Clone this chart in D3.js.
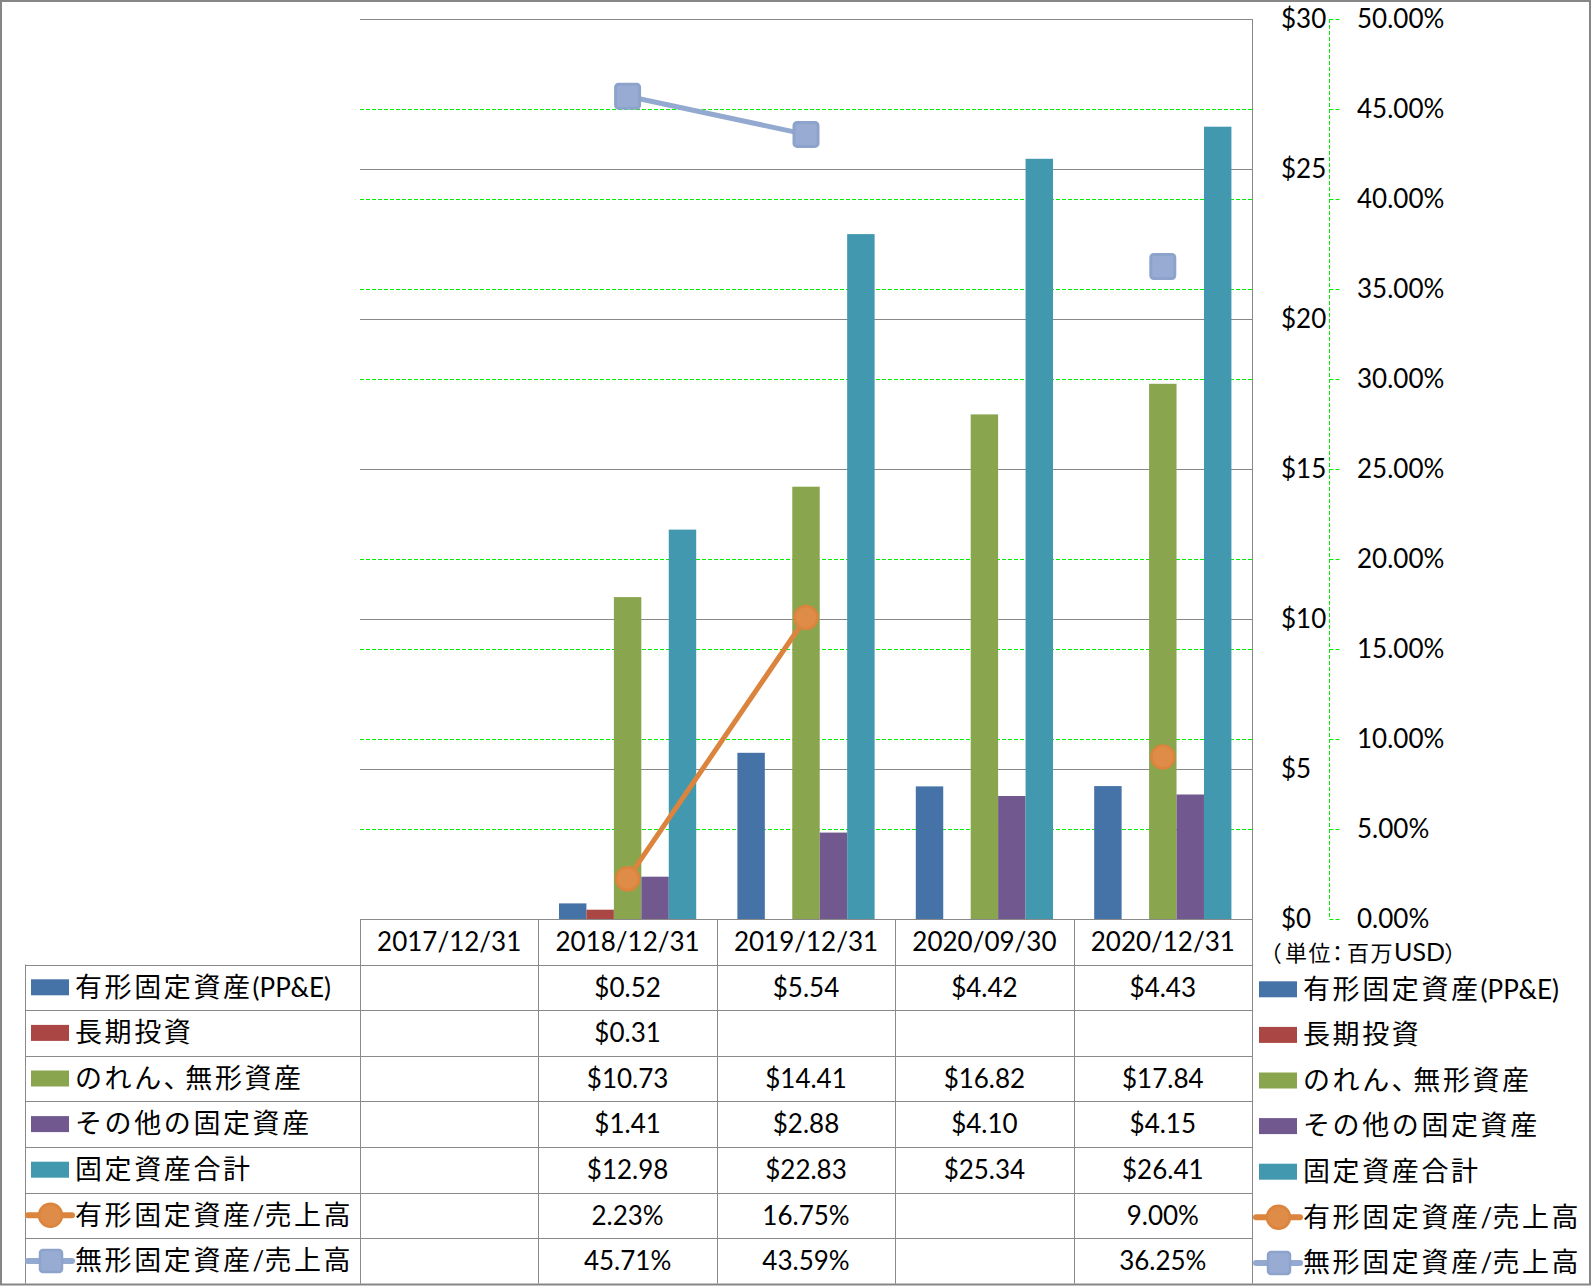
<!DOCTYPE html>
<html><head><meta charset="utf-8">
<script src="https://cdn.jsdelivr.net/npm/d3@7"></script>
<style>
html,body{margin:0;padding:0;background:#fff;}
svg{display:block;}
text{font-family:Lato,'Noto Sans CJK JP',sans-serif;fill:#000;}
</style>
</head><body>
<svg id="chart" width="1592" height="1286"></svg>
<script>
// ---- data ----
const categories = ["2017/12/31","2018/12/31","2019/12/31","2020/09/30","2020/12/31"];
const barSeriesNames = ["有形固定資産(PP&E)","長期投資","のれん、無形資産","その他の固定資産","固定資産合計"];
const ppe = [null,0.52,5.54,4.42,4.43];
const longTermInvestments = [null,0.31,null,null,null];
const goodwillIntangibles = [null,10.73,14.41,16.82,17.84];
const otherFixedAssets = [null,1.41,2.88,4.10,4.15];
const totalFixedAssets = [null,12.98,22.83,25.34,26.41];
const lineSeriesNames = ["有形固定資産/売上高","無形固定資産/売上高"];
const ppeToSales = [null,2.23,16.75,null,9.00];
const intangiblesToSales = [null,45.71,43.59,null,36.25];
const usdTicks = [0,5,10,15,20,25,30];
const pctTicks = [0,5,10,15,20,25,30,35,40,45,50];
const unitLabel = "（単位：百万USD）";

// ---- styles ----
const barColors = ["#4572A7","#AA4643","#89A54E","#71588F","#4198AF"];
const lineColors = ["#DB843D","#93A9CF"];
const barSeries = [ppe,longTermInvestments,goodwillIntangibles,otherFixedAssets,totalFixedAssets];
const lineSeries = [ppeToSales,intangiblesToSales];

const W=1592,H=1286;
const L=360,R=1252,T=19,B=919;
const rowTop=964.5, rowH=45.6;
const fs=26;

const svg=d3.select("#chart");
svg.append("rect").attr("width",W).attr("height",H).attr("fill","#fff");

const x=d3.scaleBand().domain(categories).range([L,R]).padding(0);
const xs=d3.scaleBand().domain(d3.range(5)).range([0,x.bandwidth()]).paddingInner(0).paddingOuter(0.75);
const y=d3.scaleLinear().domain([0,30]).range([B,T]);
const y2=d3.scaleLinear().domain([0,50]).range([B,T]);

// CJK-aware text: CJK runs in Noto Sans CJK, punctuation proportional
const cjkRe=/([\u3000-\u30ff\u3400-\u9fff\uff00-\uffef]+)/;
const punctRe=/([\u3001\u3002\uff08\uff09\uff1a]+)/;
function rich(t,str,ls,cjkSize,latinSize,punctLs){
  str.split(cjkRe).filter(s=>s.length).forEach(s=>{
    if(cjkRe.test(s)){
      s.split(punctRe).filter(p=>p.length).forEach(p=>{
        const isP=punctRe.test(p);
        const ts=t.append("tspan").text(p).attr("font-family","'Noto Sans CJK JP'")
          .style("letter-spacing",(isP?punctLs:ls)+"px");
        if(cjkSize) ts.attr("font-size",cjkSize);
        if(isP) ts.style("font-feature-settings","'palt'");
      });
    } else {
      const ts=t.append("tspan").text(s);
      if(latinSize) ts.attr("font-size",latinSize);
    }
  });
}

// green dashed gridlines (secondary)
svg.append("g").selectAll("line").data(pctTicks.filter(d=>d>0&&d<50)).join("line")
  .attr("x1",L).attr("x2",R).attr("y1",d=>Math.round(y2(d))+0.5).attr("y2",d=>Math.round(y2(d))+0.5)
  .attr("stroke","#00F000").attr("stroke-width",1).attr("stroke-dasharray","4,2");

// gray gridlines (primary)
svg.append("g").selectAll("line").data(usdTicks.filter(d=>d>0)).join("line")
  .attr("x1",L).attr("x2",R).attr("y1",d=>Math.round(y(d))+0.5).attr("y2",d=>Math.round(y(d))+0.5)
  .attr("stroke","#888").attr("stroke-width",1);

// primary axis line at right
svg.append("line").attr("x1",R+0.5).attr("x2",R+0.5).attr("y1",T).attr("y2",B).attr("stroke","#888");

// bars
barSeries.forEach((vals,si)=>{
  svg.append("g").selectAll("rect").data(vals.map((v,i)=>({v,c:categories[i]})).filter(d=>d.v!=null)).join("rect")
    .attr("x",d=>x(d.c)+xs(si)).attr("width",xs.bandwidth())
    .attr("y",d=>y(d.v)).attr("height",d=>B-y(d.v))
    .attr("fill",barColors[si]);
});

// lines
function markerCircle(g,cx,cy,col){
  g.append("circle").attr("cx",cx).attr("cy",cy).attr("r",11.5).attr("fill","#DF8C48").attr("stroke",col).attr("stroke-width",2.5);
}
function markerSquare(g,cx,cy,col){
  g.append("rect").attr("x",cx-12).attr("y",cy-12).attr("width",24).attr("height",24).attr("rx",3)
    .attr("fill","#98ABD3").attr("stroke","#8DA3CB").attr("stroke-width",3);
}
lineSeries.forEach((vals,li)=>{
  const pts=vals.map((v,i)=>({v,c:categories[i]}));
  const line=d3.line().defined(d=>d.v!=null).x(d=>x(d.c)+x.bandwidth()/2).y(d=>y2(d.v));
  svg.append("path").attr("d",line(pts)).attr("fill","none").attr("stroke",lineColors[li])
    .attr("stroke-width",5).attr("stroke-linecap","round");
  const g=svg.append("g");
  pts.filter(d=>d.v!=null).forEach(d=>{
    const cx=x(d.c)+x.bandwidth()/2, cy=y2(d.v);
    if(li===0) markerCircle(g,cx,cy,lineColors[0]); else markerSquare(g,cx,cy,lineColors[1]);
  });
});

// primary axis labels
svg.append("g").selectAll("text").data(usdTicks).join("text")
  .attr("x",1281).attr("y",d=>y(d)).attr("dy","0.36em").attr("font-size",fs)
  .text(d=>"$"+d);

// secondary axis
const ax2=1329.5;
svg.append("line").attr("x1",ax2).attr("x2",ax2).attr("y1",T).attr("y2",B)
  .attr("stroke","#00F000").attr("stroke-dasharray","4,2");
svg.append("g").selectAll("line").data(pctTicks).join("line")
  .attr("x1",ax2).attr("x2",ax2+10).attr("y1",d=>Math.round(y2(d))+0.5).attr("y2",d=>Math.round(y2(d))+0.5)
  .attr("stroke","#00F000").attr("stroke-dasharray","4,2");
svg.append("g").selectAll("text").data(pctTicks).join("text")
  .attr("x",1357).attr("y",d=>y2(d)).attr("dy","0.36em").attr("font-size",fs)
  .text(d=>d3.format(".2f")(d)+"%");

// unit label
const ut=svg.append("text").attr("x",1270).attr("y",953).attr("dy","0.36em").attr("font-size",22);
rich(ut,unitLabel,1.5,22,25,4);

// ---- data table ----
const grid="#8a8a8a";
const tbl=svg.append("g");
const nRows=7;
tbl.append("line").attr("x1",L).attr("x2",R).attr("y1",B+0.5).attr("y2",B+0.5).attr("stroke",grid);
d3.range(nRows+1).forEach(i=>{
  const yy=Math.round(rowTop+i*rowH)+0.5;
  tbl.append("line").attr("x1",25).attr("x2",R).attr("y1",yy).attr("y2",yy).attr("stroke",grid);
});
categories.concat(["_end"]).forEach((c,i)=>{
  const xx=Math.round(L+i*x.bandwidth())+0.5;
  tbl.append("line").attr("x1",xx).attr("x2",xx).attr("y1",B).attr("y2",rowTop+nRows*rowH).attr("stroke",grid);
});
tbl.append("line").attr("x1",25.5).attr("x2",25.5).attr("y1",rowTop).attr("y2",rowTop+nRows*rowH).attr("stroke",grid);

// header
tbl.selectAll("text.hdr").data(categories).join("text").attr("class","hdr")
  .attr("x",d=>x(d)+x.bandwidth()/2).attr("y",(B+rowTop)/2).attr("dy","0.36em")
  .attr("text-anchor","middle").attr("font-size",fs).text(d=>d);

const fmtUsd=v=>"$"+d3.format(".2f")(v);
const fmtPct=v=>d3.format(".2f")(v)+"%";
const rows=barSeries.map((s,i)=>({name:barSeriesNames[i],vals:s,fmt:fmtUsd,type:"bar",ci:i}))
  .concat(lineSeries.map((s,i)=>({name:lineSeriesNames[i],vals:s,fmt:fmtPct,type:"line",ci:i})));

function legendSymbol(g,r,x0,cy){
  if(r.type==="bar"){
    g.append("rect").attr("x",x0).attr("y",cy-8).attr("width",38).attr("height",16).attr("fill",barColors[r.ci]);
  } else {
    g.append("line").attr("x1",x0-3).attr("x2",x0+41).attr("y1",cy).attr("y2",cy)
      .attr("stroke",lineColors[r.ci]).attr("stroke-width",6).attr("stroke-linecap","round");
    if(r.ci===0) markerCircle(g,x0+19.5,cy,lineColors[0]);
    else { g.append("rect").attr("x",x0+9).attr("y",cy-11).attr("width",22).attr("height",22).attr("rx",3)
      .attr("fill","#98ABD3").attr("stroke","#8DA3CB").attr("stroke-width",2.5); }
  }
}

rows.forEach((r,ri)=>{
  const cy=rowTop+ri*rowH+rowH/2;
  const g=svg.append("g");
  legendSymbol(g,r,31,cy);
  const t1=g.append("text").attr("x",75).attr("y",cy).attr("dy","0.36em").attr("font-size",fs);
  rich(t1,r.name,2.6,27,null,8);
  legendSymbol(g,r,1259,cy+2);
  const t2=g.append("text").attr("x",1303).attr("y",cy+2).attr("dy","0.36em").attr("font-size",fs);
  rich(t2,r.name,2.6,27,null,8);
  g.selectAll("text.val").data(r.vals.map((v,i)=>({v,c:categories[i]})).filter(d=>d.v!=null)).join("text")
    .attr("class","val").attr("x",d=>x(d.c)+x.bandwidth()/2).attr("y",cy).attr("dy","0.36em")
    .attr("text-anchor","middle").attr("font-size",fs).text(d=>r.fmt(d.v));
});

// outer frame
svg.append("rect").attr("x",1).attr("y",1).attr("width",W-3).attr("height",H-2.5)
  .attr("fill","none").attr("stroke","#868686").attr("stroke-width",2);
</script>
</body></html>
